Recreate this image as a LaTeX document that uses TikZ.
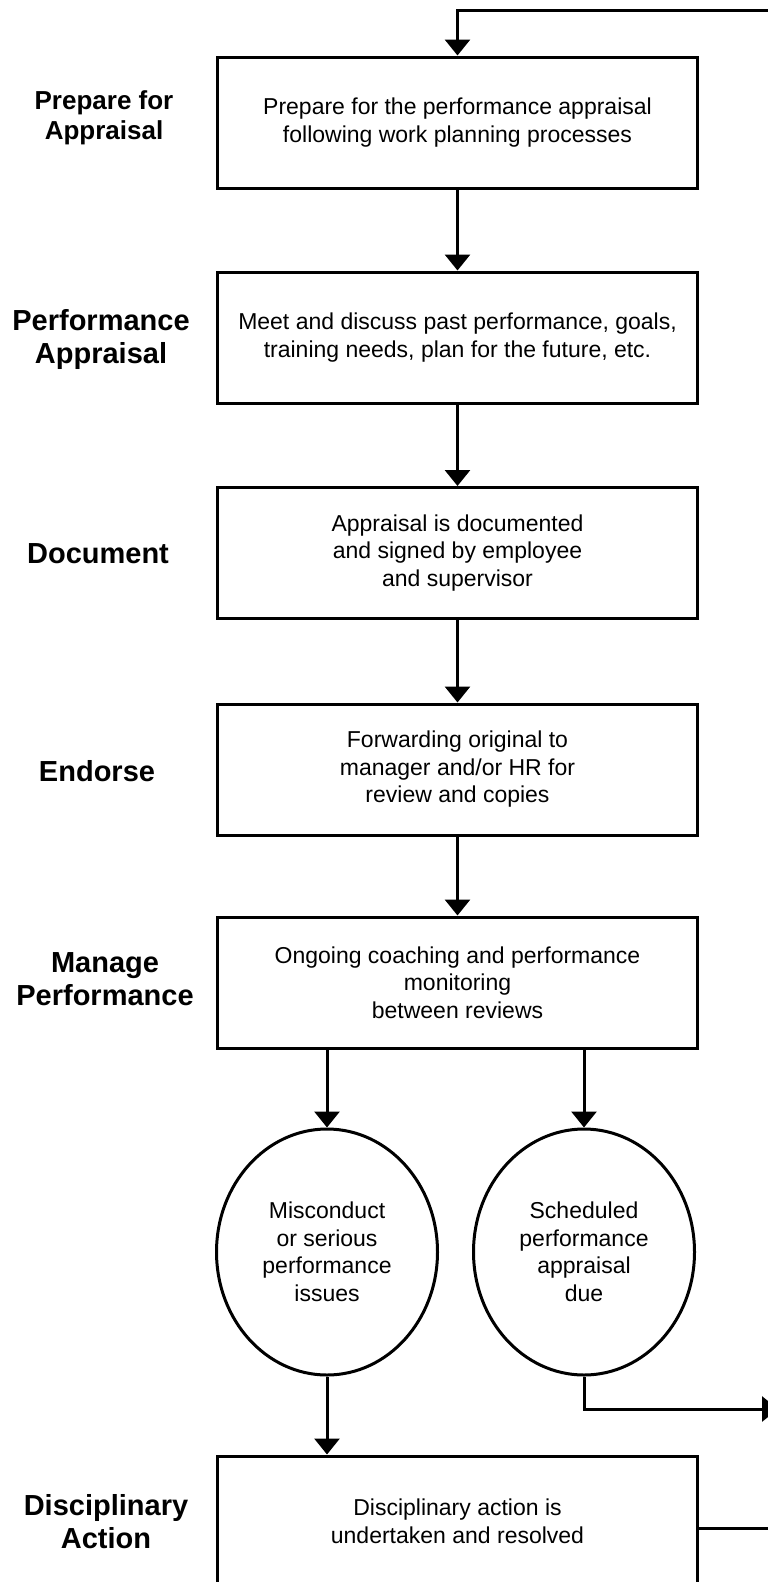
\documentclass[tikz,border=0pt]{standalone}
\usepackage{fontspec}
\setmainfont{Liberation Sans}
\usepackage{tikz}
\usetikzlibrary{shapes.geometric,arrows.meta}

\begin{document}
\begin{tikzpicture}[x=1pt,y=1pt,line width=3pt,
  stepbox/.style={rectangle,draw=black,minimum width=480pt,minimum height=131pt,
    align=center,font=\fontsize{23}{27.5}\selectfont},
  event/.style={ellipse,draw=black,minimum width=221pt,minimum height=246pt,
    inner sep=0pt,align=center,font=\fontsize{23}{27.5}\selectfont},
  side/.style={align=center,font=\bfseries\fontsize{29}{33}\selectfont},
  flow/.style={-{Triangle[width=25pt,length=16pt]}}]
\useasboundingbox (0,0) rectangle (768,-1582);
\clip (0,0) rectangle (768,-1582);
%Step boxes
\node at (457.5,-122.5) [stepbox] (Box1) {Prepare for the performance appraisal\\following work planning processes};
\node at (457.5,-337.5) [stepbox] (Box2) {Meet and discuss past performance, goals,\\training needs, plan for the future, etc.};
\node at (457.5,-553) [stepbox] (Box3) {Appraisal is documented\\and signed by employee\\and supervisor};
\node at (457.5,-769.5) [stepbox] (Box4) {Forwarding original to\\manager and/or HR for\\review and copies};
\node at (457.5,-982.5) [stepbox] (Box5) {Ongoing coaching and performance\\monitoring\\between reviews};
\node at (457.5,-1521.5) [stepbox] (Box6) {Disciplinary action is\\undertaken and resolved};
%Events
\node at (327,-1252) [event] (Ell1) {Misconduct\\or serious\\performance\\issues};
\node at (584,-1252) [event] (Ell2) {Scheduled\\performance\\appraisal\\due};
%Stage labels
\node at (104,-118) [side,font=\bfseries\fontsize{26}{30}\selectfont] (Lab1) {Prepare for\\Appraisal};
\node at (101,-339) [side] (Lab2) {Performance\\Appraisal};
\node at (98,-554) [side] (Lab3) {Document};
\node at (97,-771) [side] (Lab4) {Endorse};
\node at (105,-979) [side] (Lab5) {Manage\\Performance};
\node at (106,-1522) [side] (Lab6) {Disciplinary\\Action};
%Loose ends
\coordinate (TopIn) at (790,-10);
\coordinate (DueOut) at (790,-1409);
\coordinate (ActOut) at (790,-1528);
%Connections
\draw [flow] (TopIn) -| (Box1.north);
\draw [flow] (Box1.south) -- (Box2.north);
\draw [flow] (Box2.south) -- (Box3.north);
\draw [flow] (Box3.south) -- (Box4.north);
\draw [flow] (Box4.south) -- (Box5.north);
\draw [flow] (Ell1.north |- Box5.south) -- (Ell1.north);
\draw [flow] (Ell2.north |- Box5.south) -- (Ell2.north);
\draw [flow] (Ell1.south) -- (Ell1.south |- Box6.north);
\draw [flow] (Ell2.south) |- ([xshift=-12pt]DueOut);
\draw (Box6.east |- ActOut) -- (ActOut);
\end{tikzpicture}
\end{document}
